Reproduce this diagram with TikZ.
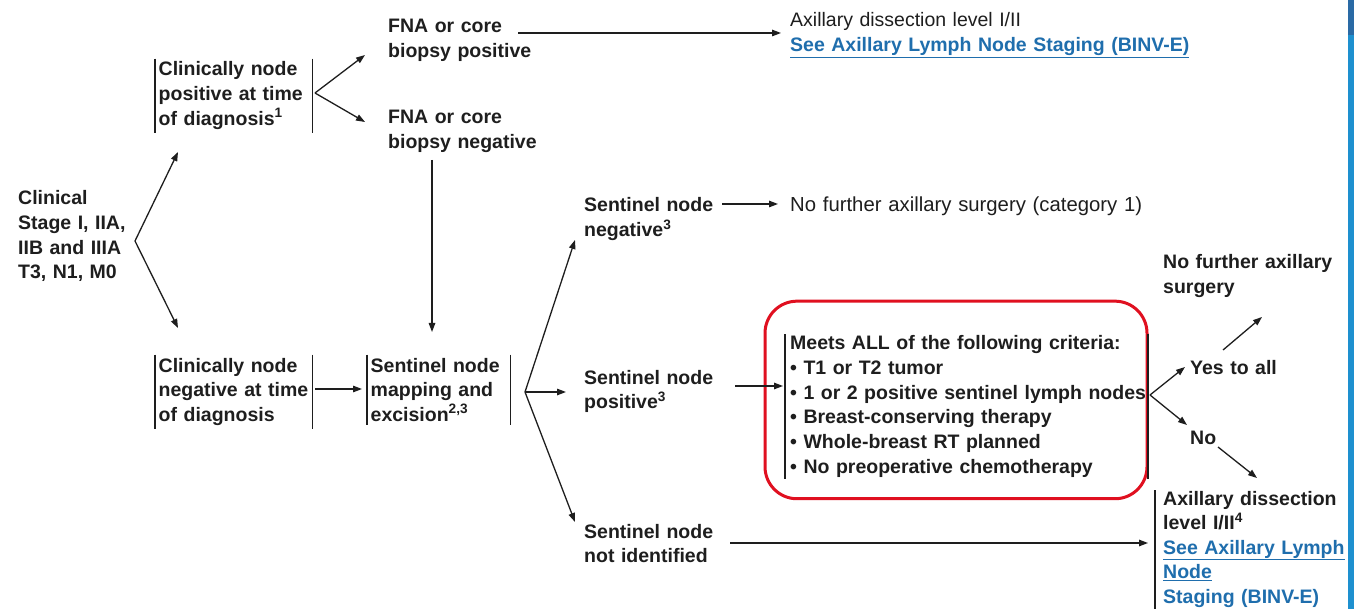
\documentclass[tikz,border=0pt]{standalone}
\usepackage{fontspec}
\setmainfont{Liberation Sans}
\usetikzlibrary{arrows.meta,calc}
\definecolor{ink}{HTML}{1E1E1E}
\definecolor{linkblue}{HTML}{1F6EAD}
\definecolor{boxred}{HTML}{E01020}
\definecolor{sidebar}{HTML}{1E90CF}
\definecolor{sidebartop}{HTML}{2A6AA5}
\newcommand\lnk[1]{\textcolor{linkblue}{\underline{#1}}}
\begin{document}
\begin{tikzpicture}[x=1pt,y=-1pt,
  txt/.style={font=\bfseries\fontsize{19.5}{24.6}\selectfont, align=left, inner sep=0pt, anchor=base west, text=ink, text width=#1},
  txt/.default=260pt,
  regtxt/.style={txt=#1, font=\mdseries\fontsize{20.3}{24.6}\selectfont},
  regtxt/.default=420pt,
  barbox/.style={txt=#1, inner xsep=3.5pt, inner ysep=3pt},
  bar/.style={draw=ink, line width=1.5pt},
  conn/.style={draw=ink, line width=1.3pt, -{Triangle[length=9pt,width=6.5pt]}},
  redbox/.style={draw=boxred, line width=3pt, rounded corners=32pt}]
\useasboundingbox (0,0) rectangle (1354,609);
\fill[white] (0,0) rectangle (1354,609);
\fill[sidebar] (1348,0) rectangle (1354,609);
\fill[sidebartop] (1348,0) rectangle (1354,35);

% nodes
\node[txt] (stage) at (18,205) {Clinical\\Stage I, IIA,\\IIB and IIIA\\T3, N1, M0};
\node[barbox=150pt] (cnp) at (155,76) {Clinically node\\positive at time\\of diagnosis\textsuperscript{1}};
\node[txt] (fnapos) at (388,33) {FNA or core\\biopsy positive};
\node[txt] (fnaneg) at (388,124) {FNA or core\\biopsy negative};
\node[txt=440pt] (ax1) at (790,27) {{\mdseries Axillary dissection level I/II}\\\lnk{See Axillary Lymph Node Staging (BINV-E)}};
\node[barbox=150pt] (cnn) at (155,372) {Clinically node\\negative at time\\of diagnosis};
\node[barbox=136pt] (snm) at (367,372) {Sentinel node\\mapping and\\excision\textsuperscript{2,3}};
\node[txt] (snneg) at (584,212) {Sentinel node\\negative\textsuperscript{3}};
\node[regtxt] (nf1) at (790,212) {No further axillary surgery (category 1)};
\node[txt] (snpos) at (584,384) {Sentinel node\\positive\textsuperscript{3}};
\node[txt=380pt, inner ysep=1.5pt, inner xsep=5pt] (crit) at (785,350) {Meets ALL of the following criteria:\\\textbullet\ T1 or T2 tumor\\\textbullet\ 1 or 2 positive sentinel lymph nodes\\\textbullet\ Breast-conserving therapy\\\textbullet\ Whole-breast RT planned\\\textbullet\ No preoperative chemotherapy};
\node[txt=140pt] (yes) at (1190,374) {Yes to all};
\node[txt=180pt] (nf2) at (1163,269) {No further axillary\\surgery};
\node[txt=60pt] (no) at (1190,444) {No};
\node[txt=180pt] (ax2) at (1163,505) {Axillary dissection\\level I/II\textsuperscript{4}\\\lnk{See Axillary Lymph}\\\lnk{Node}\\\lnk{Staging (BINV-E)}};
\node[txt] (snni) at (584,538) {Sentinel node\\not identified};

% red criteria box
\draw[redbox] ($(crit.north west)+(-20,-33)$) rectangle ($(crit.south west)+(362,20)$);

% bars
\foreach \n in {cnp,cnn,snm}{
  \draw[bar] (\n.north west) -- (\n.south west) (\n.north east) -- (\n.south east);
}
\draw[bar] (crit.north west) -- (crit.south west);
\draw[bar] ($(crit.north west)+(363,0)$) -- ($(crit.south west)+(363,0)$);
\draw[bar] ($(ax2.base west)+(-8,-15)$) -- ($(ax2.base west)+(-8,104)$);

% connectors
\coordinate (v0) at ($(stage.base west)+(117,36)$);
\draw[conn] (v0) -- ($(cnp.base west)+(23,76)$);
\draw[conn] (v0) -- ($(cnn.base west)+(23,-44)$);

\coordinate (v1) at ($(cnp.base west)+(160,17)$);
\draw[conn] (v1) -- ($(fnapos.base west)+(-23,22)$);
\draw[conn] (v1) -- ($(fnaneg.base west)+(-23,-2)$);

\draw[conn] ($(fnapos.base west)+(130,0)$) -- ($(ax1.base west)+(-9,6)$);
\draw[conn] ($(fnaneg.base west)+(44,36)$) -- ($(snm.base west)+(65,-40)$);
\draw[conn] ($(cnn.base west)+(160,17)$) -- ($(snm.base west)+(-5,17)$);

\coordinate (v2) at ($(snm.base west)+(158,20)$);
\draw[conn] (v2) -- ($(snneg.base west)+(-9,28)$);
\draw[conn] (v2) -- ($(snpos.base west)+(-18,8)$);
\draw[conn] (v2) -- ($(snni.base west)+(-9,-16)$);

\draw[conn] ($(snneg.base west)+(138,-8)$) -- ($(nf1.base west)+(-12,-8)$);
\draw[conn] ($(snpos.base west)+(151,2)$) -- ($(crit.base west)+(-2,36)$);

\coordinate (v3) at ($(crit.base west)+(365,45)$);
\draw[conn] (v3) -- ($(yes.base west)+(-5,-7)$);
\draw[conn] (v3) -- ($(no.base west)+(-3,-19)$);

\draw[conn] ($(yes.base west)+(33,-24)$) -- ($(nf2.base west)+(99,48)$);
\draw[conn] ($(no.base west)+(28,3)$) -- ($(ax2.base west)+(94,-27)$);
\draw[conn] ($(snni.base west)+(146,5)$) -- ($(ax2.base west)+(-15,38)$);
\end{tikzpicture}
\end{document}
